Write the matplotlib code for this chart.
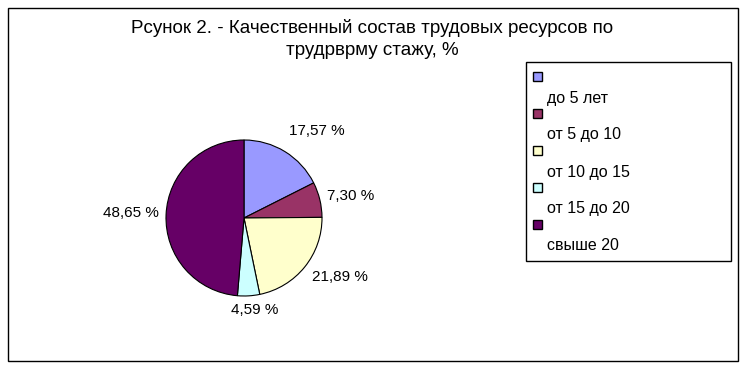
import matplotlib.pyplot as plt
from matplotlib.patches import Rectangle

plt.rcParams['font.family'] = ['Liberation Sans', 'DejaVu Sans']

TITLE = "Рсунок 2. - Качественный состав трудовых ресурсов по\nтрудрврму стажу, %"
categories = ["до 5 лет", "от 5 до 10", "от 10 до 15", "от 15 до 20", "свыше 20"]
shares = [17.57, 7.30, 21.89, 4.59, 48.65]
labels = ["17,57 %", "7,30 %", "21,89 %", "4,59 %", "48,65 %"]
colors = ["#9999FF", "#993366", "#FFFFCC", "#CCFFFF", "#660066"]

W, H = 745, 368
fig = plt.figure(figsize=(W / 100, H / 100), dpi=100)


def fx(px):
    return px / W


def fy(py):
    return 1 - py / H


# outer frame
fig.patches.append(Rectangle((fx(8), fy(361)), fx(730), 353 / H, transform=fig.transFigure,
                             fill=False, edgecolor="black", linewidth=1))

fig.text(fx(372), fy(39), TITLE, ha="center", va="center", fontsize=13.5, linespacing=1.4)

# pie
cx, cy, r = 244, 218, 78
ax = fig.add_axes([fx(cx - r), fy(cy + r), 2 * r / W, 2 * r / H])
wedges, _ = ax.pie(shares, colors=colors, startangle=90, counterclock=False,
                   wedgeprops=dict(edgecolor="black", linewidth=0.8))
ax.set_aspect("auto")
ax.set_xlim(-1, 1)
ax.set_ylim(-1, 1)

label_pos = [(317, 131), (351, 196), (340, 277), (255, 310), (131, 213)]
for lab, (x, y) in zip(labels, label_pos):
    fig.text(fx(x), fy(y), lab, ha="center", va="center", fontsize=11)

# legend box
fig.patches.append(Rectangle((fx(526), fy(261)), fx(205), 199 / H, transform=fig.transFigure,
                             fill=False, edgecolor="black", linewidth=1))
for i, (cat, col) in enumerate(zip(categories, colors)):
    my = 72 + i * 37
    fig.patches.append(Rectangle((fx(533), fy(my + 9)), fx(9), 9 / H, transform=fig.transFigure,
                                 facecolor=col, edgecolor="black", linewidth=1))
    fig.text(fx(547), fy(my + 26), cat, ha="left", va="center", fontsize=11.5)

fig.savefig("out.png", dpi=100)
